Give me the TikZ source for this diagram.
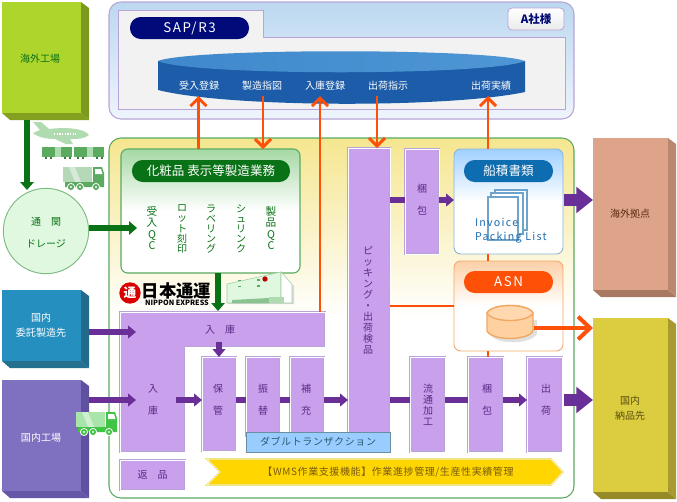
\documentclass[tikz,border=0pt]{standalone}
\usepackage{fontspec}
\usetikzlibrary{arrows.meta,calc}
\newfontfamily\jp{Noto Sans CJK JP}
\newfontfamily\jps[LetterSpace=6]{Noto Sans CJK JP}
\newfontfamily\jpw[LetterSpace=12]{Noto Sans CJK JP}
\setmainfont{Noto Sans CJK JP}
\definecolor{pur}{HTML}{6A2F96}
\definecolor{purf}{HTML}{C8A0EC}
\definecolor{purl}{HTML}{B8A4D8}
\definecolor{purt}{HTML}{5A2A86}
\definecolor{ora}{HTML}{FF5008}
\definecolor{dgr}{HTML}{0A7216}
\definecolor{mgr}{HTML}{5AAA60}
\definecolor{lgr}{HTML}{B0DAB0}
\definecolor{navy2}{HTML}{000A78}
\definecolor{disk1}{HTML}{1C5CA8}
\definecolor{disk2}{HTML}{3F88CC}
\definecolor{disk3}{HTML}{4E96D4}
\definecolor{top1}{HTML}{BCD8F0}
\definecolor{top2}{HTML}{EEF4FC}
\definecolor{yel1}{HTML}{F5E68F}
\definecolor{grn1}{HTML}{A5D8A5}
\definecolor{circf}{HTML}{E0F8E0}
\definecolor{dblf}{HTML}{99CCFF}
\definecolor{dbld}{HTML}{6A8FA0}
\definecolor{dblt}{HTML}{2A5A70}
\definecolor{band}{HTML}{FFD600}
\definecolor{bandl}{HTML}{E8D440}
\definecolor{bandt}{HTML}{7A5A10}
\definecolor{doc1}{HTML}{A0D0FF}
\definecolor{docd}{HTML}{8AB4D8}
\definecolor{docp}{HTML}{0E6CB0}
\definecolor{docs2}{HTML}{6EA4CC}
\definecolor{doct}{HTML}{1E6CB0}
\definecolor{asn1}{HTML}{FCD0A8}
\definecolor{asnd}{HTML}{F5A868}
\definecolor{cylf}{HTML}{FFD0A0}
\definecolor{cylt}{HTML}{FFD8B0}
\definecolor{cyld}{HTML}{F0A860}
\definecolor{kt}{HTML}{5A2A10}
\definecolor{nt}{HTML}{5A5010}
\tikzset{
 base/.style={inner sep=0pt,outer sep=0pt},
 rect/.style={base,rectangle,align=center,font=\jp\fontsize{7.5}{8.25}\selectfont},
 pbox/.style={rect,draw=purl,double=white,line width=.4pt,double distance=.55pt,fill=purf,text=purt},
 pill/.style={rect,rounded corners=8pt,text=white,font=\jp\fontsize{9.4}{10}\selectfont},
 pillw/.style={pill,font=\jpw\fontsize{10}{10}\selectfont},
 lab/.style={base,align=center,font=\jp\fontsize{7.5}{8.25}\selectfont},
 pair/.style={lab,text=purt,font=\jp\fontsize{7.5}{16.5}\selectfont},
 plab/.style={lab,text=purt},
 glab/.style={lab,text=dgr,font=\jp\fontsize{7.6}{8.6}\selectfont},
 wlab/.style={lab,text=white,font=\jp\fontsize{7.5}{11}\selectfont},
 gar/.style={draw=dgr,line width=4.5pt,-{Triangle[length=6pt,width=10pt]}},
 par/.style={draw=pur,line width=4.5pt,-{Triangle[length=6pt,width=9.5pt]}},
 pline/.style={draw=pur,line width=4.5pt},
 pbig/.style={draw=pur,line width=9pt,-{Triangle[length=12.5pt,width=19pt]}},
 oar/.style={draw=ora,line width=2.2pt,-{Straight Barb[length=6pt,width=12pt]}},
 oline/.style={draw=ora,line width=2.2pt},
 obig/.style={draw=ora,line width=3pt,-{Straight Barb[length=9pt,width=17pt]}},
}
% [style]{name}{x1}{y1}{x2}{y2}{text}
\newcommand\bx[7][]{%
 \pgfmathsetmacro\cxx{(#3+#5)/2}\pgfmathsetmacro\cyy{(#4+#6)/2}%
 \pgfmathsetmacro\wdd{(#5-#3)*.75}\pgfmathsetmacro\htt{(#6-#4)*.75}%
 \node[rect,minimum width=\wdd pt,minimum height=\htt pt,#1] (#2) at (\cxx,\cyy) {#7};}
% {name}{y1}{x1}{x2}{y2}{front}{side}{bottom}
\newcommand\threed[8]{%
 \definecolor{f#1}{HTML}{#6}\definecolor{s#1}{HTML}{#7}\definecolor{b#1}{HTML}{#8}%
 \fill[b#1] (#3,#5)--(#4,#5)--(#4+8,#5+7)--(#3+8,#5+7)--cycle;
 \fill[s#1] (#4,#2)--(#4+8,#2+6)--(#4+8,#5+7)--(#4,#5)--cycle;
 \bx[fill=f#1]{#1}{#3}{#2}{#4}{#5}{}}
\newcommand\truck[2]{%
 \begin{scope}[shift={(#1)}]
  \fill[#2!45!white] (0,0)--(29,0)--(29,15)--(0,15)--cycle;
  \fill[white,opacity=.45] (6,0)--(12,0)--(18,15)--(12,15)--cycle;
  \fill[#2] (30,0)--(39,0)--(41,6)--(41,20)--(2,20)--(2,15)--(30,15)--cycle;
  \fill[white] (32,2)--(38,2)--(39.5,7)--(32,7)--cycle;
  \foreach \wx in {8,17,33}{\node[base,circle,minimum size=5.4pt,fill=#2,draw=white,line width=.6pt] at (\wx,20) {};
   \node[base,circle,minimum size=1.8pt,fill=white] at (\wx,20) {};}
 \end{scope}}
\begin{document}
\begin{tikzpicture}[x=.75pt,y=-.75pt]
\useasboundingbox (0,0) rectangle (677,501);
\fill[white] (0,0) rectangle (677,501);
% outer 3-D blocks
\threed{hw}{2}{2}{81}{113}{AED52C}{7D9A20}{83A020}
\threed{itaku}{290}{2}{81}{361}{2590C0}{226A8A}{24708F}
\threed{nkoujou}{380}{2}{81}{491}{8070C0}{6050A0}{6656A8}
\threed{kyoten}{138}{593}{668}{290}{DEA48A}{BA8870}{A87860}
\threed{noufu}{318}{593}{668}{492}{DCCC40}{A89A30}{968A28}
\node[glab,font=\jp\fontsize{7.5}{8}\selectfont] (tw1) at (40,59) {海外工場};
\node[wlab] (tw2) at (41,325.5) {国内\\委託製造先};
\node[wlab] (tw3) at (41,438) {国内工場};
\node[lab,text=kt] (tw4) at (630,214) {海外拠点};
\node[lab,text=nt,font=\jp\fontsize{7.5}{11}\selectfont] (tw5) at (630,408) {国内\\納品先};
% SAP panel
\bx[shade,top color=top1,bottom color=top2,draw=purl,line width=.8pt,rounded corners=9pt]{toppanel}{109}{2}{574}{119}{}
\path[fill=black!5,draw=purl,line width=.6pt] (118,10)--(263,10)--(263,37)--(565,37)--(565,109)--(118,109)--cycle;
\bx[pillw,fill=navy2,rounded corners=8pt]{sap}{130}{17}{249}{39}{SAP/R3}
\bx[shade,top color=white,bottom color=black!8,draw=purl,line width=.6pt,rounded corners=3pt,text=navy2,font=\jp\bfseries\fontsize{8.6}{10}\selectfont]{asha}{508}{8}{564}{30}{A社様}
% disk
\path[fill=disk1] (158,61)--(158,90) .. controls (230,108) and (450,108) .. (525,92)--(525,61)--cycle;
\path[shade,left color=disk2,right color=disk3] (158,61) .. controls (190,48) and (490,48) .. (525,61) .. controls (490,76) and (190,76) .. (158,61)--cycle;
\foreach \tx/\nm/\lbl in {199/d1/受入登録,262/d2/製造指図,325/d3/入庫登録,388/d4/出荷指示,491/d5/出荷実績}
 {\node[wlab] (\nm) at (\tx,86) {\lbl};}
% main panel
\bx[shade,top color=yel1,bottom color=white,middle color=white,draw=mgr,line width=.8pt,rounded corners=9pt]{main}{109}{138}{574}{498}{}
\bx[shade,top color=grn1,bottom color=white,middle color=white,draw=mgr,line width=.8pt,rounded corners=5pt]{green}{121}{149}{300}{273}{}
\bx[pill,fill=dgr]{gpill}{132}{160}{290}{182}{化粧品 表示等製造業務}
\node[glab,font=\jp\fontsize{8}{8.6}\selectfont] (q1) at (152,228) {受\\入\\Q\\C};
\node[glab,font=\jp\fontsize{7.5}{7.6}\selectfont] (q2) at (182,229) {ロ\\ッ\\ト\\刻\\印};
\node[glab,font=\jp\fontsize{7.5}{7.6}\selectfont] (q3) at (211,229) {ラ\\ベ\\リ\\ン\\グ};
\node[glab,font=\jp\fontsize{7.5}{7.6}\selectfont] (q4) at (241,229) {シ\\ュ\\リ\\ン\\ク};
\node[glab,font=\jp\fontsize{8}{8.6}\selectfont] (q5) at (271,228) {製\\品\\Q\\C};
% customs circle
\node[base,circle,minimum size=64pt,fill=circf,draw=mgr!80!white,line width=.7pt] (tsukan) at (46,231) {};
\node[glab,font=\jp\fontsize{7.5}{17}\selectfont] (tsutxt) at (46,232.5) {通　関\\ドレージ};
% process boxes
\path[fill=purf,draw=purl,double=white,line width=.4pt,double distance=.55pt] (120,312)--(325,312)--(325,347)--(185,347)--(185,452)--(120,452)--cycle;
\node[lab,text=purt] (nyu1) at (220,330) {入　庫};
\node[pair] (nyu2) at (153,400) {入\\庫};
\bx[pbox]{hokan}{202}{357}{236}{451}{}
\bx[pbox]{furi}{246}{357}{280}{436}{}
\bx[pbox]{hoju}{290}{357}{324}{436}{}
\node[pair] (t1) at (218,400) {保\\管};
\node[pair] (t2) at (263,400) {振\\替};
\node[pair] (t3) at (306,400) {補\\充};
\bx[pbox]{pick}{348}{148}{390}{436}{}
\node[plab] (pt) at (368,300) {ピ\\ッ\\キ\\ン\\グ\\・\\出\\荷\\検\\品};
\bx[rect,fill=dblf,draw=dbld,line width=.6pt,text=dblt,font=\jps\fontsize{7.5}{8}\selectfont]{dbl}{246}{432}{390}{452}{ダブルトランザクション}
\bx[pbox]{kon1}{405}{149}{439}{254}{}
\node[pair] (t4) at (422,200) {梱\\包};
\bx[pbox]{ryu}{410}{357}{445}{452}{}
\node[plab] (t5) at (428,405) {流\\通\\加\\工};
\bx[pbox]{kon2}{468}{357}{503}{452}{}
\node[pair] (t6) at (487,400) {梱\\包};
\bx[pbox]{shu}{527}{357}{562}{452}{}
\node[pair] (t7) at (546,400) {出\\荷};
\bx[pbox]{hen}{120}{460}{185}{490}{返　品}
% yellow band
\path[fill=band,draw=bandl,double=white,line width=.4pt,double distance=.5pt] (207,459)--(551,459)--(563,472)--(551,485)--(207,485)--(220,472)--cycle;
\node[lab,text=bandt,font=\jps\fontsize{7.5}{8}\selectfont] (wms) at (388,472) {【WMS作業支援機能】作業進捗管理/生産性実績管理};
% shipping docs box
\bx[shade,top color=doc1,bottom color=white,middle color=white,draw=docd,line width=.7pt,rounded corners=5pt]{docs}{454}{149}{563}{254}{}
\bx[pill,fill=docp]{dpill}{464}{160}{553}{182}{船積書類}
\foreach \a/\b/\c/\d in {495/190/527/230,491/193/523/234,488/197/518/240}
 {\path[fill=white,draw=docs2,line width=.8pt] (\a,\b) rectangle (\c,\d);}
\node[lab,anchor=west,text=doct,font=\jpw\fontsize{8}{10.5}\selectfont] (inv) at (475,231) {\begin{tabular}{@{}l@{}}Invoice\\Packing List\end{tabular}};
% ASN box
\bx[shade,top color=asn1,bottom color=white,middle color=white,draw=asnd,line width=.7pt,rounded corners=5pt]{asn}{454}{261}{563}{351}{}
\bx[pillw,fill=ora]{apill}{464}{271}{553}{293}{ASN}
\path[fill=black!12] (490,320)--(490,334) .. controls (495,345) and (530,345) .. (537,334)--(537,320)--cycle;
\path[fill=cylf,draw=cyld,line width=1pt] (487,313)--(487,331) .. controls (492,341) and (528,341) .. (533,331)--(533,313) .. controls (528,303) and (492,303) .. (487,313)--cycle;
\path[draw=cyld,fill=cylt,line width=1pt] (487,313) .. controls (492,303) and (528,303) .. (533,313) .. controls (528,323) and (492,323) .. (487,313)--cycle;
% connector ports
\coordinate (cyl) at (534,328);
\coordinate (pa) at (198.5,96);
\coordinate (pb) at (263,96);
\coordinate (pc) at (320,96);
\coordinate (pc0) at (320,312);
\coordinate (pd) at (377,96);
\coordinate (pe) at (488,96);
\coordinate (py) at (0,400);
\coordinate (pw) at (0,200);
\coordinate (pq) at (0,306);
\coordinate (pr) at (137,228);
\coordinate (hw0) at (27,120);
\coordinate (circtop) at (27,190);
\coordinate (ltop) at (218,311);
\coordinate (in1) at (136,332);
\coordinate (in2) at (136,400);
\coordinate (lr) at (176,400);
\coordinate (ld) at (219,342);
% orange
\draw[oar] (green.north -| pa) -- (pa);
\draw[oar] (pb) -- (green.north -| pb);
\draw[oar] (pc0) -- (pc);
\draw[oar] (pd) -- (pick.north -| pd);
\draw[oar] (docs.north -| pe) -- (pe);
\draw[oline] (pick.east |- pq) -- (asn.west |- pq);
\draw[oline] (docs.south -| pe) -- (asn.north -| pe);
\draw[oline] (asn.south -| pe) -- (kon2.north -| pe);
\draw[obig] (cyl) -- (noufu.west |- cyl);
% green
\draw[gar] (hw0) -- (circtop);
\draw[gar] (tsukan.east |- pr) -- (pr);
\draw[gar] (green.south -| ltop) -- (ltop);
% purple
\draw[par] (itaku.east |- in1) ++(8,0) -- (in1);
\draw[par] (nkoujou.east |- in2) ++(8,0) -- (in2);
\draw[par] (lr) -- (hokan.west |- py);
\draw[par] (ld) -- (hokan.north -| ld);
\draw[pline] (hokan.east |- py) -- (furi.west |- py);
\draw[pline] (furi.east |- py) -- (hoju.west |- py);
\draw[par] (hoju.east |- py) -- (pick.west |- py);
\draw[pline] (pick.east |- py) -- (ryu.west |- py);
\draw[pline] (ryu.east |- py) -- (kon2.west |- py);
\draw[par] (kon2.east |- py) -- (shu.west |- py);
\draw[pbig] (shu.east |- py) ++(2,0) -- (noufu.west |- py);
\draw[pline] (pick.east |- pw) -- (kon1.west |- pw);
\draw[par] (kon1.east |- pw) -- (docs.west |- pw);
\draw[pbig] (docs.east |- pw) ++(1,0) -- (kyoten.west |- pw);
% airplane
\path[fill=lgr] (33,122)--(41,122)--(49,129) .. controls (65,127) and (84,128) .. (89,135) .. controls (84,139) and (78,139) .. (70,139)--(73,144)--(66,144)--(55,139) .. controls (47,139) and (37,137) .. (33,133)--(40,130)--cycle;
\draw[white,line width=.8pt,dash pattern=on 1pt off 1pt] (54,134)--(76,134);
% train
\foreach \cx in {42,74}{
 \path[fill=mgr] (\cx,147) rectangle (\cx+30,157);
 \path[fill=lgr] (\cx+13,147) rectangle (\cx+19,157);
 \foreach \wh in {3,8,22,27}{\fill[mgr!70!black] (\cx+\wh,157) rectangle (\cx+\wh+2,159);}
}
\truck{63,167}{mgr}
% logo
\node[base,circle,minimum size=16pt,fill=red!85!black,text=white,font=\jp\bfseries\fontsize{9.5}{10}\selectfont] (logo) at (130,293) {通};
\node[lab,font=\jp\bfseries\fontsize{13}{14}\selectfont,text=black] (ntx) at (176.5,291) {日本通運};
\node[lab,font=\jp\bfseries\fontsize{5.4}{6}\selectfont,text=black] (nex) at (177,302.5) {NIPPON EXPRESS};
% warehouse
\path[fill=black!15] (229,304)--(294,304)--(294,285)--(229,290)--cycle;
\path[fill=circf,draw=mgr!60!white,line width=.4pt] (227,284)--(281,272)--(281,303)--(227,303)--cycle;
\path[fill=white,draw=mgr!60!white,line width=.4pt] (281,272)--(292,284)--(292,303)--(281,303)--cycle;
\path[fill=mgr!70!white] (232,300)--(269,298)--(269,303)--(232,303)--cycle;
\path[fill=lgr] (269,297)--(284,297)--(284,303)--(269,303)--cycle;
\node[base,circle,minimum size=4pt,fill=red!75!black] (wh) at (265,279) {};
\foreach \px in {238,257}{\foreach \py in {0,6}{\fill[mgr] (\px,287-\px*.03+\py) rectangle (\px+3,288.5-\px*.03+\py);}}
\truck{76,412}{mgr!70!green}
\end{tikzpicture}
\end{document}
